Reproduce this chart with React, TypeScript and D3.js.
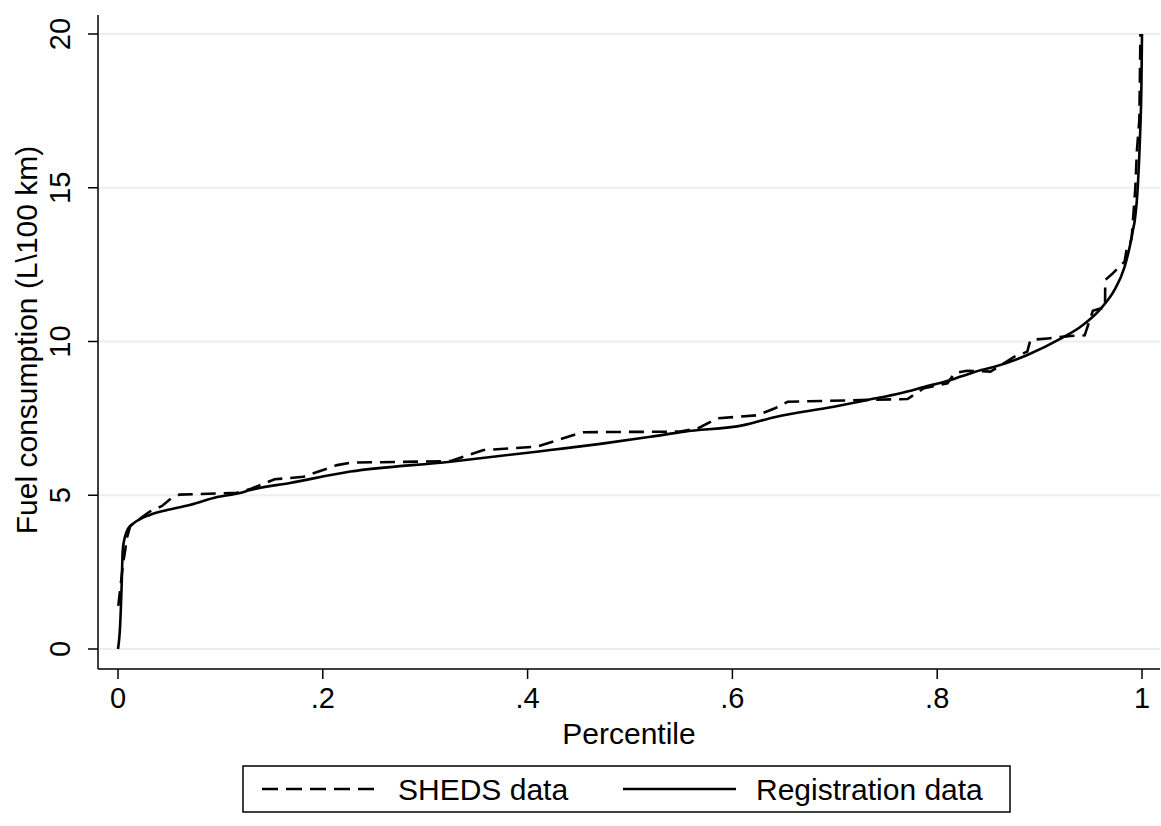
import React from "react";
import * as d3 from "d3";

// SHEDS data (dashed) – percentile vs fuel consumption
const shedsX = [0.0003, 0.002, 0.005, 0.007, 0.0085, 0.012, 0.02, 0.031, 0.043, 0.052, 0.06, 0.116, 0.129, 0.153, 0.181, 0.214, 0.227, 0.3245, 0.357, 0.409, 0.445, 0.455, 0.549, 0.566, 0.585, 0.624, 0.641, 0.654, 0.771, 0.777, 0.787, 0.81, 0.817, 0.829, 0.852, 0.856, 0.875, 0.888, 0.891, 0.908, 0.93, 0.944, 0.948, 0.952, 0.96, 0.9639, 0.9641, 0.971, 0.983, 0.985, 0.988, 0.99, 0.9935, 0.995, 0.9974, 0.9985];
const shedsY = [1.4, 1.9, 2.8, 3.2, 3.6, 4.0, 4.2, 4.47, 4.65, 4.9, 5.02, 5.08, 5.2, 5.52, 5.6, 5.98, 6.06, 6.11, 6.47, 6.58, 6.96, 7.05, 7.07, 7.17, 7.5, 7.6, 7.82, 8.04, 8.13, 8.26, 8.48, 8.64, 8.97, 9.05, 9.02, 9.1, 9.5, 9.67, 10.05, 10.1, 10.18, 10.2, 10.6, 11.0, 11.08, 11.1, 12.0, 12.2, 12.6, 13.0, 13.1, 13.4, 15.0, 16.2, 17.2, 20];

// Registration data (solid)
const regX = [0, 0.002, 0.0036, 0.0046, 0.0068, 0.01, 0.015, 0.031, 0.048, 0.07, 0.097, 0.119, 0.129, 0.168, 0.227, 0.3245, 0.422, 0.471, 0.52, 0.553, 0.611, 0.641, 0.699, 0.732, 0.764, 0.787, 0.813, 0.823, 0.843, 0.856, 0.888, 0.921, 0.94, 0.96, 0.973, 0.983, 0.988, 0.991, 0.993, 0.996, 0.998, 0.9995, 1.0];
const regY = [0, 0.72, 2.1, 3.2, 3.65, 3.92, 4.08, 4.36, 4.52, 4.68, 4.94, 5.07, 5.17, 5.4, 5.77, 6.09, 6.47, 6.67, 6.9, 7.07, 7.28, 7.54, 7.88, 8.1, 8.32, 8.52, 8.75, 8.86, 9.07, 9.18, 9.56, 10.1, 10.48, 11.08, 11.67, 12.43, 13.08, 13.6, 13.95, 15.1, 16.6, 18.5, 20];

const xTicks = [0, 0.2, 0.4, 0.6, 0.8, 1];
const xTickLabels = ["0", ".2", ".4", ".6", ".8", "1"];
const yTicks = [0, 5, 10, 15, 20];

const FONT = "'Liberation Sans', Arial, Helvetica, sans-serif";

function SText({ x, y, rotate = false, size, anchor = "middle", children }: any) {
  return (
    <text
      transform={`translate(${x},${y})${rotate ? " rotate(-90)" : ""}`}
      textAnchor={anchor}
      fontSize={size}
      fontFamily={FONT}
      fill="#000"
    >
      {children}
    </text>
  );
}

export default function App() {
  const W = 1161, H = 826;
  const left = 98, right = 1160, top = 15, bottom = 669;
  const x = d3.scaleLinear().domain([0, 1]).range([118, 1142]);
  const y = d3.scaleLinear().domain([0, 20]).range([649, 34]);

  const sheds = shedsX.map((v, i) => [v, shedsY[i]] as [number, number]);
  const reg = regX.map((v, i) => [v, regY[i]] as [number, number]);

  const lineLin = d3.line<[number, number]>().x(d => x(d[0])).y(d => y(d[1])).curve(d3.curveLinear);
  const lineSmooth = d3.line<[number, number]>().x(d => x(d[0])).y(d => y(d[1])).curve(d3.curveMonotoneX);

  return (
    <svg width={W} height={H} style={{ position: "absolute", left: 0, top: 0, background: "#fff" }}>
      <rect x={0} y={0} width={W} height={H} fill="#fff" />
      {yTicks.map(t => (
        <line key={"g" + t} x1={left + 1} x2={right} y1={y(t)} y2={y(t)} stroke="#e8f0f2" strokeWidth={2} />
      ))}
      <path d={lineSmooth(reg) || ""} fill="none" stroke="#000" strokeWidth={2.6} strokeLinejoin="round" />
      <path d={lineLin(sheds) || ""} fill="none" stroke="#000" strokeWidth={2.6} strokeDasharray="15,8" />
      {/* axes */}
      <line x1={left} x2={left} y1={top} y2={bottom} stroke="#000" strokeWidth={1.5} />
      <line x1={left} x2={right} y1={bottom} y2={bottom} stroke="#000" strokeWidth={1.5} />
      {yTicks.map(t => (
        <g key={"yt" + t}>
          <line x1={left - 10} x2={left} y1={y(t)} y2={y(t)} stroke="#000" strokeWidth={1.5} />
          <SText x={70} y={y(t)} rotate size={29}>{String(t)}</SText>
        </g>
      ))}
      {xTicks.map((t, i) => (
        <g key={"xt" + t}>
          <line x1={x(t)} x2={x(t)} y1={bottom} y2={bottom + 10} stroke="#000" strokeWidth={1.5} />
          <SText x={x(t)} y={708} size={29}>{xTickLabels[i]}</SText>
        </g>
      ))}
      <SText x={629} y={744} size={30}>Percentile</SText>
      <SText x={37} y={340} rotate size={30}>Fuel consumption (L\100 km)</SText>
      {/* legend */}
      <rect x={243} y={766} width={767} height={46} fill="#fff" stroke="#000" strokeWidth={1.5} />
      <line x1={262} x2={377} y1={789} y2={789} stroke="#000" strokeWidth={2.6} strokeDasharray="16,8" />
      <SText x={398} y={800} size={30} anchor="start">SHEDS data</SText>
      <line x1={623} x2={736} y1={789} y2={789} stroke="#000" strokeWidth={2.6} />
      <SText x={756} y={800} size={30} anchor="start">Registration data</SText>
    </svg>
  );
}
